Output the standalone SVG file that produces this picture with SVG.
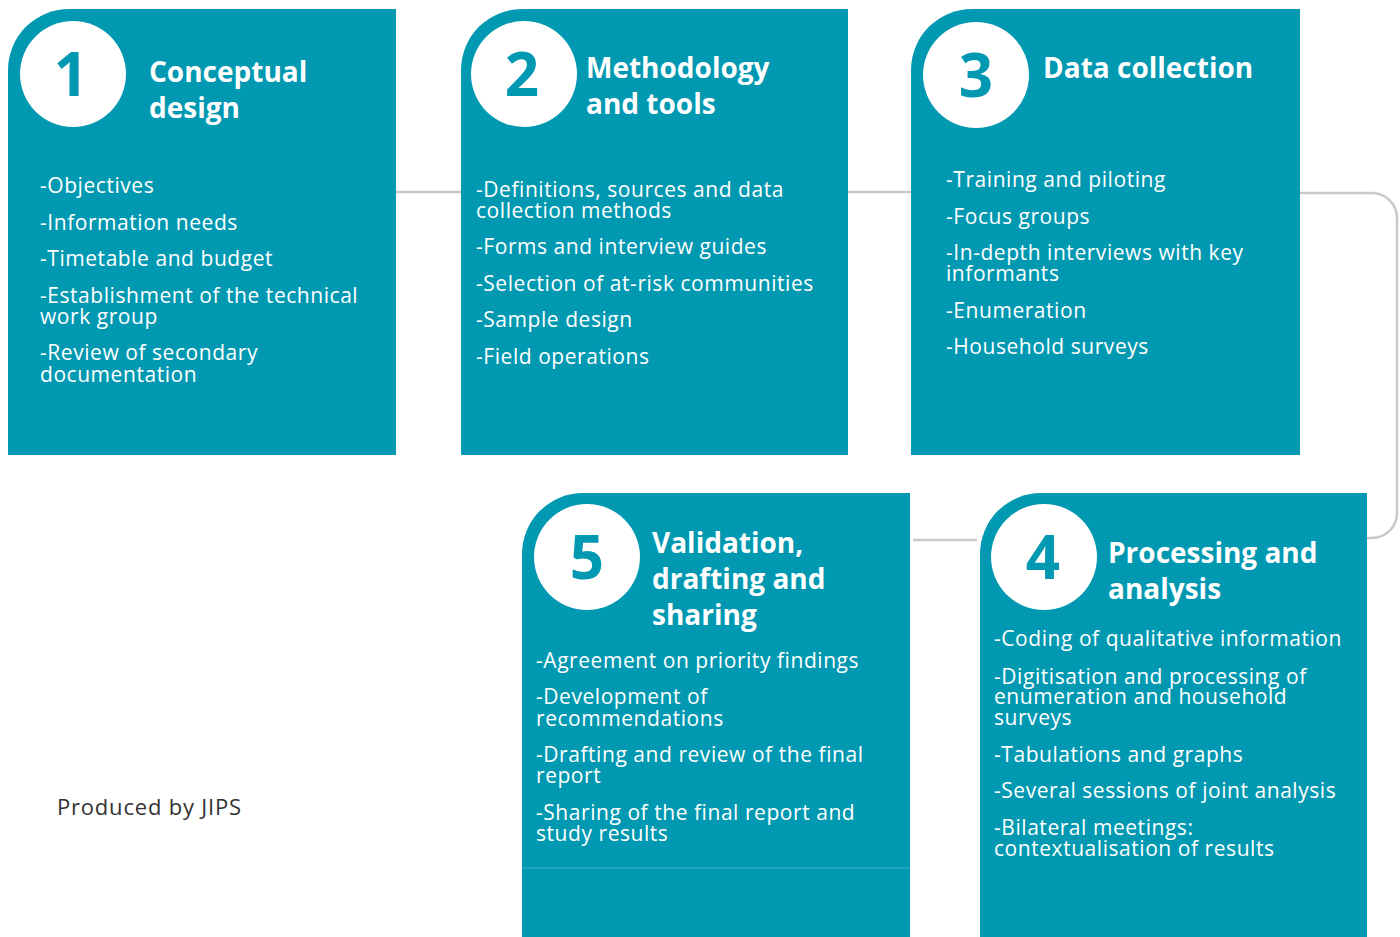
<svg xmlns="http://www.w3.org/2000/svg" width="1400" height="937" viewBox="0 0 1400 937">
<style>
.box{fill:#0099B1}
.circ{fill:#ffffff}
.num{font-family:"Open Sans","Liberation Sans",sans-serif;font-weight:700;font-size:60px;fill:#0099B1;text-anchor:middle}
.title{font-family:"Open Sans","Liberation Sans",sans-serif;font-weight:700;font-size:28px;fill:#ffffff}
.item{font-family:"Open Sans","Liberation Sans",sans-serif;font-size:21px;letter-spacing:0.55px;fill:#ffffff}
.conn{fill:none;stroke:#c9c9c9;stroke-width:2.5}
.credit{font-family:"Open Sans","Liberation Sans",sans-serif;font-size:22px;letter-spacing:0.8px;fill:#333333}
</style>
<rect width="1400" height="937" fill="#ffffff"/>
<g id="connectors">
<line class="conn" x1="396" y1="192" x2="461" y2="192"/>
<line class="conn" x1="848" y1="192" x2="911" y2="192"/>
<path class="conn" d="M1300,193 H1372 A25,25 0 0 1 1397,218 V513 A25,25 0 0 1 1372,538 H1367"/>
<line class="conn" x1="913" y1="540" x2="977" y2="540"/>
</g>
<g id="node1">
<path class="box" d="M8,70 A61,61 0 0 1 69,9 H396 V455 H8 Z"/>
<circle class="circ" cx="73" cy="74" r="53"/>
<text class="num" x="71" y="96">1</text>
<text class="title" x="149" y="82">Conceptual</text>
<text class="title" x="149" y="118">design</text>
<text class="item" x="40" y="193">-Objectives</text>
<text class="item" x="40" y="230">-Information needs</text>
<text class="item" x="40" y="266">-Timetable and budget</text>
<text class="item" x="40" y="303">-Establishment of the technical</text>
<text class="item" x="40" y="324">work group</text>
<text class="item" x="40" y="360">-Review of secondary</text>
<text class="item" x="40" y="382">documentation</text>
</g>
<g id="node2">
<path class="box" d="M461,70 A61,61 0 0 1 522,9 H848 V455 H461 Z"/>
<circle class="circ" cx="524" cy="74" r="53"/>
<text class="num" x="522" y="96">2</text>
<text class="title" x="586" y="78">Methodology</text>
<text class="title" x="586" y="114">and tools</text>
<text class="item" x="476" y="197">-Definitions, sources and data</text>
<text class="item" x="476" y="218">collection methods</text>
<text class="item" x="476" y="254">-Forms and interview guides</text>
<text class="item" x="476" y="291">-Selection of at-risk communities</text>
<text class="item" x="476" y="327">-Sample design</text>
<text class="item" x="476" y="364">-Field operations</text>
</g>
<g id="node3">
<path class="box" d="M911,70 A61,61 0 0 1 972,9 H1300 V455 H911 Z"/>
<circle class="circ" cx="976" cy="75" r="53"/>
<text class="num" x="976" y="97">3</text>
<text class="title" x="1043" y="78">Data collection</text>
<text class="item" x="946" y="187">-Training and piloting</text>
<text class="item" x="946" y="224">-Focus groups</text>
<text class="item" x="946" y="260">-In-depth interviews with key</text>
<text class="item" x="946" y="281">informants</text>
<text class="item" x="946" y="318">-Enumeration</text>
<text class="item" x="946" y="354">-Household surveys</text>
</g>
<g id="node5">
<path class="box" d="M522,554 A61,61 0 0 1 583,493 H910 V937 H522 Z"/>
<line x1="522" y1="868" x2="910" y2="868" stroke="#3db3c6" stroke-width="1"/>
<circle class="circ" cx="587" cy="557" r="53"/>
<text class="num" x="587" y="579">5</text>
<text class="title" x="652" y="553">Validation,</text>
<text class="title" x="652" y="589">drafting and</text>
<text class="title" x="652" y="625">sharing</text>
<text class="item" x="536" y="668">-Agreement on priority findings</text>
<text class="item" x="536" y="704">-Development of</text>
<text class="item" x="536" y="726">recommendations</text>
<text class="item" x="536" y="762">-Drafting and review of the final</text>
<text class="item" x="536" y="783">report</text>
<text class="item" x="536" y="820">-Sharing of the final report and</text>
<text class="item" x="536" y="841">study results</text>
</g>
<g id="node4">
<path class="box" d="M980,554 A61,61 0 0 1 1041,493 H1367 V937 H980 Z"/>
<circle class="circ" cx="1044" cy="557" r="53"/>
<text class="num" x="1043" y="579">4</text>
<text class="title" x="1108" y="563">Processing and</text>
<text class="title" x="1108" y="599">analysis</text>
<text class="item" x="994" y="646">-Coding of qualitative information</text>
<text class="item" x="994" y="684">-Digitisation and processing of</text>
<text class="item" x="994" y="704">enumeration and household</text>
<text class="item" x="994" y="725">surveys</text>
<text class="item" x="994" y="762">-Tabulations and graphs</text>
<text class="item" x="994" y="798">-Several sessions of joint analysis</text>
<text class="item" x="994" y="835">-Bilateral meetings:</text>
<text class="item" x="994" y="856">contextualisation of results</text>
</g>
<g id="credit">
<text class="credit" x="57" y="815">Produced by JIPS</text>
</g>
</svg>
